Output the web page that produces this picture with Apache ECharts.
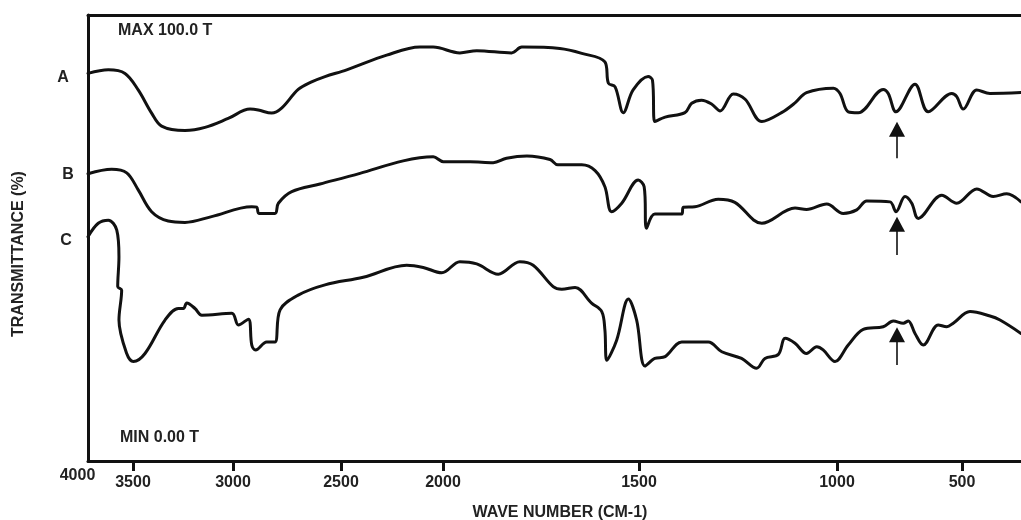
<!DOCTYPE html>
<html>
<head>
<meta charset="utf-8">
<script src="https://cdn.jsdelivr.net/npm/echarts@6/dist/echarts.min.js"></script>
<style>
  html, body { margin: 0; padding: 0; background: #fff; }
  #chart { width: 1021px; height: 520px; }
</style>
</head>
<body>
<div id="chart"></div>
<script>
// Wavenumber axis: the spectrum plot uses a different scale per 500 cm-1 segment
const scaleWN = [4000, 3500, 3000, 2500, 2000, 1500, 1000, 500, 0];
const segmentScale = [45, 100, 108, 102, 196, 198, 125, 125];
const tickLabelsWN = [3500, 3000, 2500, 2000, 1500, 1000, 500];
const rangeWN = [4000, 264];

// Spectra: [wave number (cm-1), transmittance (%)]
const curveA = [
  [4000,86.9],[3774,87.7],[3589,86.9],[3474,83.2],[3407,78.0],[3357,75.1],[3240,74.1],[3140,74.8],
  [3024,76.8],[2921,78.9],[2883,78.7],[2821,78.0],[2775,79.1],[2698,83.3],[2636,85.0],[2574,86.2],
  [2472,87.7],[2276,91.0],[2113,92.8],[2048,92.8],[1957,91.5],[1914,92.0],[1825,91.5],[1799,92.8],
  [1702,92.5],[1646,91.4],[1587,89.5],[1578,84.7],[1561,83.9],[1540,78.1],[1515,83.2],[1477,86.2],
  [1466,85.4],[1460,76.1],[1434,77.1],[1384,78.1],[1367,80.2],[1342,80.9],[1316,80.0],[1295,78.5],
  [1262,82.3],[1232,81.1],[1190,76.1],[1140,78.1],[1106,80.3],[1077,82.6],[1009,83.6],[988,82.4],
  [955,78.3],[915,78.1],[815,83.3],[795,82.4],[764,78.3],[688,84.5],[635,78.3],[541,82.4],
  [521,81.7],[495,78.9],[441,83.2],[388,82.4],[264,82.6]
];
const curveB = [
  [4000,64.4],[3737,65.4],[3570,64.6],[3474,60.8],[3407,55.9],[3324,53.8],[3240,53.5],[3107,54.8],
  [2913,57.0],[2890,56.9],[2880,55.5],[2806,55.5],[2790,57.8],[2728,60.4],[2597,62.1],[2407,64.5],
  [2195,67.3],[2048,68.2],[1999,67.1],[1931,67.1],[1872,66.9],[1838,67.9],[1786,68.4],[1727,67.6],
  [1707,66.4],[1646,66.4],[1612,65.1],[1587,61.5],[1570,55.9],[1544,57.8],[1502,63.0],[1487,61.5],
  [1481,52.2],[1460,55.4],[1392,55.4],[1388,56.9],[1359,57.0],[1300,58.7],[1258,58.0],[1190,53.3],
  [1106,56.7],[1077,56.4],[1026,57.6],[975,55.5],[921,56.3],[881,58.3],[788,58.1],[764,55.9],
  [728,59.3],[701,57.8],[675,54.4],[581,59.6],[521,57.8],[441,61.0],[375,59.3],[321,59.9],[264,58.1]
];
const curveC = [
  [4000,50.3],[3886,53.3],[3774,54.0],[3681,51.8],[3656,45.8],[3670,39.1],[3626,38.3],[3656,31.6],
  [3570,24.1],[3498,22.3],[3440,24.1],[3340,31.6],[3273,34.2],[3248,34.2],[3231,35.4],[3190,34.2],
  [3156,32.7],[3006,33.1],[2975,30.5],[2929,31.8],[2913,26.0],[2895,24.9],[2844,26.7],[2806,26.7],
  [2782,33.9],[2698,37.2],[2574,39.5],[2391,41.2],[2178,43.9],[2097,43.4],[2006,42.2],[1957,44.7],
  [1914,44.2],[1859,41.9],[1804,44.7],[1770,43.9],[1719,39.1],[1697,38.5],[1663,38.9],[1621,35.4],
  [1595,33.5],[1587,29.4],[1582,22.6],[1557,27.1],[1527,36.3],[1506,31.6],[1485,21.3],[1460,23.0],
  [1434,23.4],[1392,26.7],[1325,26.7],[1291,24.5],[1241,23.0],[1203,20.8],[1182,23.0],[1148,23.9],
  [1131,27.5],[1106,26.4],[1077,24.1],[1051,25.6],[1035,24.9],[1005,22.3],[955,26.0],[895,29.5],
  [815,30.1],[775,31.4],[735,30.9],[715,31.4],[688,28.6],[655,26.0],[595,30.5],[561,30.1],
  [535,30.9],[468,33.5],[388,32.5],[348,31.6],[264,28.6]
];
// Marked band (arrows): wave number and [tail, head] transmittance per spectrum
const arrowWN = 760;
const arrowA = [67.9, 74.4];
const arrowB = [46.2, 53.1];
const arrowC = [21.5, 28.3];

function warp(w) {
  let u = 0;
  for (let i = 0; i < segmentScale.length; i++) {
    const hi = scaleWN[i], lo = scaleWN[i + 1];
    if (w >= lo) { return u + (hi - w) / (hi - lo) * segmentScale[i]; }
    u += segmentScale[i];
  }
  return u;
}

const FONT = '"Liberation Sans", Arial, sans-serif';
const INK = '#111';

function mkSeries(name, data, arrow) {
  return {
    name: name,
    type: 'line',
    data: data.map(p => [warp(p[0]), p[1]]),
    showSymbol: false,
    smooth: 0.35,
    lineStyle: { color: INK, width: 3, cap: 'round', join: 'round' },
    silent: true,
    markLine: {
      silent: true,
      animation: false,
      symbol: ['none', 'triangle'],
      symbolSize: [16, 15],
      label: { show: false },
      lineStyle: { color: INK, width: 1.6, type: 'solid' },
      itemStyle: { color: INK },
      data: [[
        { coord: [warp(arrowWN), arrow[0]] },
        { coord: [warp(arrowWN), arrow[1]] }
      ]]
    }
  };
}

const tickUnits = tickLabelsWN.map(warp);
const chart = echarts.init(document.getElementById('chart'), null, { renderer: 'canvas' });
chart.setOption({
  animation: false,
  backgroundColor: '#fff',
  grid: { left: 88, right: 0, top: 15, bottom: 59, containLabel: false },
  xAxis: [{
    type: 'value',
    min: warp(rangeWN[0]),
    max: warp(rangeWN[1]),
    position: 'bottom',
    axisLine: { show: true, lineStyle: { color: INK, width: 3 } },
    axisTick: { show: true, customValues: tickUnits, length: 10, lineStyle: { color: INK, width: 3 } },
    axisLabel: {
      show: true,
      customValues: tickUnits,
      margin: 14,
      color: '#222',
      fontFamily: FONT,
      fontWeight: 'bold',
      fontSize: 16,
      formatter: function (v) {
        for (const t of tickLabelsWN) { if (Math.abs(warp(t) - v) < 0.01) return String(t); }
        return '';
      }
    },
    splitLine: { show: false }
  }, {
    type: 'value',
    min: warp(rangeWN[0]),
    max: warp(rangeWN[1]),
    position: 'top',
    axisLine: { show: true, lineStyle: { color: INK, width: 3 } },
    axisTick: { show: false },
    axisLabel: { show: false },
    splitLine: { show: false }
  }],
  yAxis: {
    type: 'value',
    min: 0,
    max: 100,
    axisLine: { show: true, lineStyle: { color: INK, width: 3 } },
    axisTick: { show: false },
    axisLabel: { show: false },
    splitLine: { show: false }
  },
  graphic: [
    { type: 'text', left: 118, top: 23, style: { text: 'MAX 100.0 T', font: 'bold 16px ' + FONT, fill: '#222' } },
    { type: 'text', left: 120, top: 430, style: { text: 'MIN 0.00 T', font: 'bold 16px ' + FONT, fill: '#222' } },
    { type: 'text', x: 63, y: 78, style: { text: 'A', font: 'bold 16px ' + FONT, fill: '#222', align: 'center', verticalAlign: 'middle' } },
    { type: 'text', x: 68, y: 175, style: { text: 'B', font: 'bold 16px ' + FONT, fill: '#222', align: 'center', verticalAlign: 'middle' } },
    { type: 'text', x: 66, y: 241, style: { text: 'C', font: 'bold 16px ' + FONT, fill: '#222', align: 'center', verticalAlign: 'middle' } },
    { type: 'text', x: 77.5, y: 475.5, style: { text: '4000', font: 'bold 16px ' + FONT, fill: '#222', align: 'center', verticalAlign: 'middle' } },
    { type: 'text', x: 560, y: 513, style: { text: 'WAVE NUMBER (CM-1)', font: 'bold 16px ' + FONT, fill: '#222', align: 'center', verticalAlign: 'middle' } },
    { type: 'text', x: 19, y: 254, rotation: Math.PI / 2, style: { text: 'TRANSMITTANCE (%)', font: 'bold 16px ' + FONT, fill: '#222', align: 'center', verticalAlign: 'middle' } }
  ],
  series: [
    mkSeries('A', curveA, arrowA),
    mkSeries('B', curveB, arrowB),
    mkSeries('C', curveC, arrowC)
  ]
});
</script>
</body>
</html>
